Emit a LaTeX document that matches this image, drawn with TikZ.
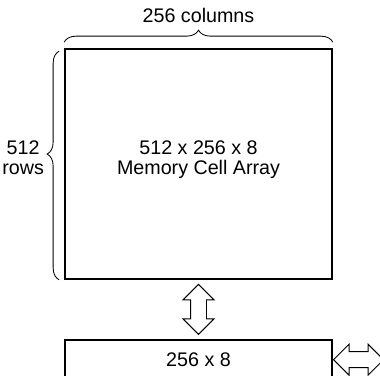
\documentclass[tikz,border=0pt]{standalone}
\usepackage{fontspec}
\setmainfont{Liberation Sans}
\usetikzlibrary{positioning,calc,shapes.arrows}
\usetikzlibrary{decorations.pathreplacing}

\begin{document}
\begin{tikzpicture}[font=\fontsize{14}{14.2}\selectfont]
\tikzstyle{cellbox}=[draw,line width=1.2pt,minimum width=6.675cm,inner sep=0pt]
\tikzstyle{sizebrace}=[decorate,decoration={brace,amplitude=0.3cm},line width=0.6pt]
\tikzstyle{busarrow}=[double arrow,draw,line width=0.7pt,double arrow head extend=0.1875cm,double arrow tip angle=90,inner sep=0.1875cm,minimum height=1.25cm]
\useasboundingbox (0,0) rectangle (9.5,9.375);
\clip (0,0) rectangle (9.5,9.375);
%%%%%%%%%%%%%%%%%%%%%%%%%%%%%%%%%%%%%%%%%%%%%%%%%%%%%%%%%%%%%%%%%%%%%%%%%%%%%%%%%%%%%%%%
%% Draw Blocks
%%%%%%%%%%%%%%%%%%%%%%%%%%%%%%%%%%%%%%%%%%%%%%%%%%%%%%%%%%%%%%%%%%%%%%%%%%%%%%%%%%%%%%%%
% cell array
\node[cellbox,minimum height=5.75cm,
      label={[align=center,yshift=0.11cm]center:512 x 256 x 8\\Memory Cell Array}]
      (array) at (4.9625,5.275) {};
% row buffer
\node[cellbox,minimum height=1cm,below=1.475cm of array] (buffer) {256 x 8};

% braces
\draw[sizebrace] ([yshift=0.15cm]array.north west) -- ([yshift=0.15cm]array.north east)
      coordinate[midway,yshift=0.3cm] (coltip);
\node[anchor=base,inner sep=0pt] (cols) at ([yshift=0.2cm]coltip) {256 columns};

\draw[sizebrace,decoration={aspect=0.55}] ([xshift=-0.125cm]array.south west)
      -- ([xshift=-0.125cm,yshift=-0.075cm]array.north west)
      coordinate[pos=0.55,xshift=-0.3cm] (rowtip);
\node[align=center,inner sep=0pt,left=0.075cm of rowtip,yshift=-0.09cm] (rows) {512\\rows};
%%%%%%%%%%%%%%%%%%%%%%%%%%%%%%%%%%%%%%%%%%%%%%%%%%%%%%%%%%%%%%%%%%%%%%%%%%%%%%%%%%%%%%%%

%%%%%%%%%%%%%%%%%%%%%%%%%%%%%%%%%%%%%%%%%%%%%%%%%%%%%%%%%%%%%%%%%%%%%%%%%%%%%%%%%%%%%%%%
%%% Draw connections
%%%%%%%%%%%%%%%%%%%%%%%%%%%%%%%%%%%%%%%%%%%%%%%%%%%%%%%%%%%%%%%%%%%%%%%%%%%%%%%%%%%%%%%%
\node[busarrow,rotate=90] (vbus) at ($(array.south)!0.5!(buffer.north)$) {};
\node[busarrow,right=0pt of buffer] (hbus) {};
%%%%%%%%%%%%%%%%%%%%%%%%%%%%%%%%%%%%%%%%%%%%%%%%%%%%%%%%%%%%%%%%%%%%%%%%%%%%%%%%%%%%%%%%

\end{tikzpicture}
\end{document}
